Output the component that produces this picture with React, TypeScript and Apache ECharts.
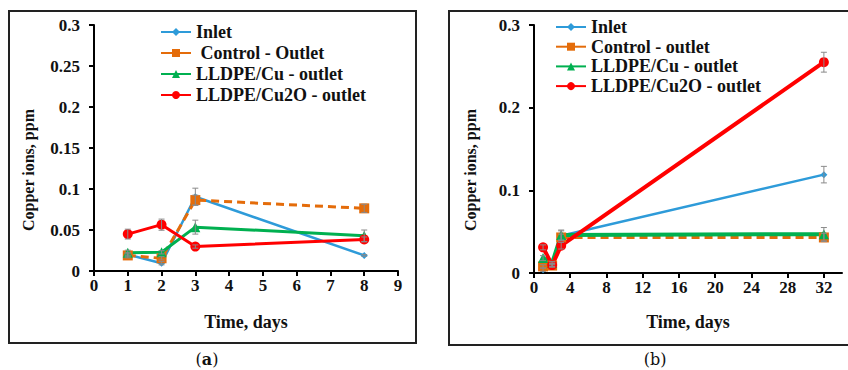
import React, { useEffect, useRef } from "react";
import * as echarts from "echarts";

// ---- Panel (a) data ----
const daysA = [1, 2, 3, 8];
const inletA = [0.02, 0.0095, 0.0905, 0.019];
const controlA = [0.019, 0.0155, 0.0865, 0.0764];
const cuA = [0.0224, 0.0228, 0.0535, 0.043];
const cu2oA = [0.045, 0.0565, 0.0298, 0.0385];
const inletErrA = [0.002, 0.002, 0.0105, 0.001];
const controlErrA = [0.003, 0.002, 0.006, 0.005];
const cuErrA = [0.003, 0.002, 0.0085, 0.007];
const cu2oErrA = [0.006, 0.0068, 0.002, 0.003];

// ---- Panel (b) data ----
const daysB = [1, 2, 3, 32];
const inletB = [0.004, 0.01, 0.045, 0.119];
const controlB = [0.008, 0.009, 0.043, 0.043];
const cuB = [0.018, 0.012, 0.046, 0.047];
const cu2oB = [0.031, 0.0096, 0.033, 0.255];
const inletErrB = [0.002, 0.002, 0.006, 0.01];
const controlErrB = [0.002, 0.002, 0.004, 0.005];
const cuErrB = [0.003, 0.002, 0.006, 0.008];
const cu2oErrB = [0.003, 0.002, 0.004, 0.012];

// ---- ticks ----
const xTicksA = [0, 1, 2, 3, 4, 5, 6, 7, 8, 9];
const yTicksA = [0, 0.05, 0.1, 0.15, 0.2, 0.25, 0.3];
const xTicksB = [0, 4, 8, 12, 16, 20, 24, 28, 32];
const yTicksB = [0, 0.1, 0.2, 0.3];

const namesA = ["Inlet", " Control - Outlet", "LLDPE/Cu - outlet", "LLDPE/Cu2O - outlet"];
const namesB = ["Inlet", "Control - outlet", "LLDPE/Cu - outlet", "LLDPE/Cu2O - outlet"];

const BLUE = "#2E9BD9";
const ORANGE = "#E46C0A";
const GREEN = "#00B050";
const RED = "#FF0000";

const SERIF = "'Liberation Serif', 'Times New Roman', serif";

function pairs(xs: number[], ys: number[]) {
  return xs.map((x, i) => [x, ys[i]]);
}
function errTriples(xs: number[], ys: number[], es: number[]) {
  return xs.map((x, i) => [x, ys[i], es[i]]);
}

const errRender = (params: any, api: any) => {
  const x = api.value(0);
  const y = api.value(1);
  const e = api.value(2);
  const top = api.coord([x, y + e]);
  const bot = api.coord([x, y - e]);
  const w = 3;
  const st = { stroke: "#8a8a8a", lineWidth: 1 };
  return {
    type: "group",
    children: [
      { type: "line", shape: { x1: top[0], y1: top[1], x2: bot[0], y2: bot[1] }, style: st },
      { type: "line", shape: { x1: top[0] - w, y1: top[1], x2: top[0] + w, y2: top[1] }, style: st },
      { type: "line", shape: { x1: bot[0] - w, y1: bot[1], x2: bot[0] + w, y2: bot[1] }, style: st },
    ],
  };
};

function lineSeries(
  name: string,
  idx: number,
  xs: number[],
  ys: number[],
  color: string,
  symbol: string,
  symbolSize: number,
  width: number,
  dashed = false
) {
  return {
    type: "line",
    name,
    xAxisIndex: idx,
    yAxisIndex: idx,
    data: pairs(xs, ys),
    symbol,
    symbolSize,
    color,
    lineStyle: { color, width, type: dashed ? [8, 5] : "solid" },
    itemStyle: { color },
    z: 3,
  };
}

function errSeries(idx: number, xs: number[], ys: number[], es: number[]) {
  return {
    type: "custom",
    xAxisIndex: idx,
    yAxisIndex: idx,
    renderItem: errRender,
    data: errTriples(xs, ys, es),
    encode: { x: 0, y: 1 },
    z: 4,
    silent: true,
  };
}

const axisLineStyle = { show: true, lineStyle: { color: "#000", width: 2 } };
const tickStyle = { show: true, length: 5, lineStyle: { color: "#000", width: 2 } };
const tickLabel = {
  fontFamily: SERIF,
  fontWeight: "bold",
  fontSize: 17,
  color: "#111",
};
const nameStyle = { fontFamily: SERIF, fontWeight: "bold", fontSize: 18, color: "#111" };

export default function App() {
  const ref = useRef<HTMLDivElement>(null);
  useEffect(() => {
    if (!ref.current) return;
    const chart = echarts.init(ref.current, undefined, { renderer: "svg" });
    const legendText = {
      fontFamily: SERIF,
      fontWeight: "bold",
      fontSize: 18,
      color: "#111",
    };
    const option: any = {
      animation: false,
      backgroundColor: "#fff",
      grid: [
        { left: 94, right: 450, top: 25, bottom: 99 },
        { left: 534, right: 6, top: 25, bottom: 97 },
      ],
      xAxis: [
        {
          type: "value",
          gridIndex: 0,
          min: 0,
          max: 9,
          interval: 1,
          axisLine: axisLineStyle,
          axisTick: { ...tickStyle, customValues: xTicksA },
          axisLabel: { ...tickLabel, margin: 6, customValues: xTicksA },
          splitLine: { show: false },
          name: "Time, days",
          nameLocation: "middle",
          nameGap: 42,
          nameTextStyle: nameStyle,
        },
        {
          type: "value",
          gridIndex: 1,
          min: 0,
          max: 34,
          interval: 4,
          axisLine: axisLineStyle,
          axisTick: { ...tickStyle, customValues: xTicksB },
          axisLabel: { ...tickLabel, margin: 6, customValues: xTicksB },
          splitLine: { show: false },
          name: "Time, days",
          nameLocation: "middle",
          nameGap: 40,
          nameTextStyle: nameStyle,
        },
      ],
      yAxis: [
        {
          type: "value",
          gridIndex: 0,
          min: 0,
          max: 0.3,
          interval: 0.05,
          axisLine: axisLineStyle,
          axisTick: { ...tickStyle, customValues: yTicksA },
          axisLabel: { ...tickLabel, margin: 14, customValues: yTicksA },
          splitLine: { show: false },
        },
        {
          type: "value",
          gridIndex: 1,
          min: 0,
          max: 0.3,
          interval: 0.1,
          axisLine: axisLineStyle,
          axisTick: { ...tickStyle, customValues: yTicksB },
          axisLabel: { ...tickLabel, margin: 14, customValues: yTicksB },
          splitLine: { show: false },
        },
      ],
      legend: [
        {
          orient: "vertical",
          left: 160,
          top: 23,
          padding: 0,
          itemWidth: 30,
          itemHeight: 10,
          itemGap: 3,
          data: namesA,
          textStyle: legendText,
          lineStyle: { type: "solid" },
          selectedMode: false,
        },
        {
          orient: "vertical",
          left: 555,
          top: 18,
          padding: 0,
          itemWidth: 30,
          itemHeight: 10,
          itemGap: 1.7,
          data: namesB,
          textStyle: legendText,
          lineStyle: { type: "solid" },
          selectedMode: false,
        },
      ],
      series: [
        lineSeries(namesA[0], 0, daysA, inletA, BLUE, "diamond", 7, 2.5),
        lineSeries(namesA[1], 0, daysA, controlA, ORANGE, "rect", 10, 3, true),
        lineSeries(namesA[2], 0, daysA, cuA, GREEN, "triangle", 10, 3),
        lineSeries(namesA[3], 0, daysA, cu2oA, RED, "circle", 10, 3),
        errSeries(0, daysA, inletA, inletErrA),
        errSeries(0, daysA, controlA, controlErrA),
        errSeries(0, daysA, cuA, cuErrA),
        errSeries(0, daysA, cu2oA, cu2oErrA),
        lineSeries(namesB[0], 1, daysB, inletB, BLUE, "diamond", 7, 2.5),
        lineSeries(namesB[1], 1, daysB, controlB, ORANGE, "rect", 10, 3, true),
        lineSeries(namesB[2], 1, daysB, cuB, GREEN, "triangle", 10, 4),
        lineSeries(namesB[3], 1, daysB, cu2oB, RED, "circle", 10, 4),
        errSeries(1, daysB, inletB, inletErrB),
        errSeries(1, daysB, controlB, controlErrB),
        errSeries(1, daysB, cuB, cuErrB),
        errSeries(1, daysB, cu2oB, cu2oErrB),
      ],
      graphic: [
        {
          type: "rect",
          shape: { x: 9, y: 11, width: 407, height: 332 },
          style: { fill: "none", stroke: "#222", lineWidth: 2 },
          z: 0,
          silent: true,
        },
        {
          type: "rect",
          shape: { x: 449, y: 11, width: 420, height: 334 },
          style: { fill: "none", stroke: "#222", lineWidth: 2 },
          z: 0,
          silent: true,
        },
        {
          type: "text",
          x: 28,
          y: 170,
          rotation: Math.PI / 2,
          style: {
            text: "Copper ions, ppm",
            fontFamily: SERIF,
            fontWeight: "bold",
            fontSize: 16,
            fill: "#111",
            textAlign: "center",
            textVerticalAlign: "middle",
          },
        },
        {
          type: "text",
          x: 470,
          y: 170,
          rotation: Math.PI / 2,
          style: {
            text: "Copper ions, ppm",
            fontFamily: SERIF,
            fontWeight: "bold",
            fontSize: 16,
            fill: "#111",
            textAlign: "center",
            textVerticalAlign: "middle",
          },
        },
        {
          type: "text",
          x: 207,
          y: 359,
          style: {
            text: "{n|(}{b|a}{n|)}",
            textAlign: "center",
            textVerticalAlign: "middle",
            rich: {
              n: { fontFamily: "DejaVu Serif", fontSize: 16, fill: "#111" },
              b: { fontFamily: "DejaVu Serif", fontWeight: "bold", fontSize: 16, fill: "#111" },
            },
          },
        },
        {
          type: "text",
          x: 655,
          y: 359,
          style: {
            text: "{n|(b)}",
            textAlign: "center",
            textVerticalAlign: "middle",
            rich: {
              n: { fontFamily: "DejaVu Serif", fontSize: 16, fill: "#111" },
            },
          },
        },
      ],
    };
    chart.setOption(option);
    return () => chart.dispose();
  }, []);
  return (
    <div
      ref={ref}
      style={{ position: "fixed", left: 0, top: 0, width: 848, height: 370 }}
    />
  );
}
